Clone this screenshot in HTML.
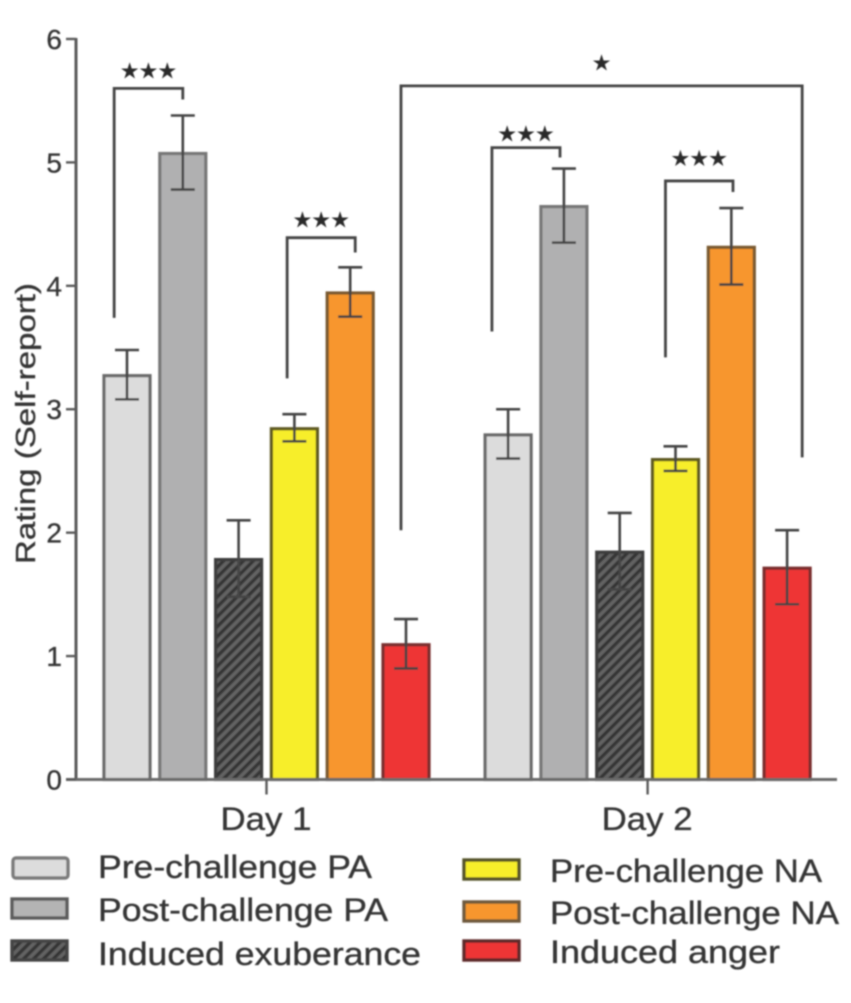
<!DOCTYPE html>
<html lang="en">
<head>
<meta charset="utf-8">
<title>Rating by day</title>
<style>
html,body{margin:0;padding:0;background:#fff;width:851px;height:1003px;overflow:hidden}
svg{display:block}
text{font-family:"Liberation Sans",sans-serif;fill:#363636;stroke:#363636;stroke-width:0.35px}
.star{font-family:"DejaVu Sans",sans-serif;fill:#2a2a2a;stroke:#2a2a2a}
</style>
</head>
<body>
<svg id="chart" width="851" height="1003" viewBox="0 0 851 1003" xmlns="http://www.w3.org/2000/svg">
<defs>
<filter id="soft" x="-5%" y="-5%" width="110%" height="110%"><feGaussianBlur stdDeviation="0.85"/></filter>
<pattern id="hatch" width="7" height="7" patternUnits="userSpaceOnUse" patternTransform="rotate(-45)">
<rect width="7" height="7" fill="#626262"/>
<rect width="7" height="3.4" fill="#353535"/>
</pattern>
</defs>
<rect width="851" height="1003" fill="#ffffff"/>
<g id="root" filter="url(#soft)">
<g id="bars"></g>
<g id="axes"></g>
<g id="errors"></g>
<g id="brackets"></g>
<text transform="translate(35,564) rotate(-90)" font-size="28" textLength="281" lengthAdjust="spacingAndGlyphs">Rating (Self-report)</text>
<g>
<g>
<rect x="13" y="858" width="55" height="20" rx="3" fill="#dcdcdc" stroke="#7a7a7a" stroke-width="3.4"/>
<text x="98" y="878" font-size="32" textLength="274" lengthAdjust="spacingAndGlyphs">Pre-challenge PA</text>
</g>
<g>
<rect x="12" y="899" width="55" height="19" fill="#b4b4b4" stroke="#5c5c5c" stroke-width="3.4"/>
<text x="98" y="921" font-size="32" textLength="290" lengthAdjust="spacingAndGlyphs">Post-challenge PA</text>
</g>
<g>
<rect x="12" y="941" width="55" height="19" fill="url(#hatch)" stroke="#444444" stroke-width="3.4"/>
<text x="98" y="965" font-size="32" textLength="323" lengthAdjust="spacingAndGlyphs">Induced exuberance</text>
</g>
<g>
<rect x="464" y="860" width="55" height="19" fill="#f7ee2c" stroke="#55532a" stroke-width="3.4"/>
<text x="550" y="882" font-size="32" textLength="272" lengthAdjust="spacingAndGlyphs">Pre-challenge NA</text>
</g>
<g>
<rect x="464" y="902" width="55" height="19" fill="#f7962d" stroke="#6e5a3e" stroke-width="3.4"/>
<text x="550" y="924" font-size="32" textLength="289" lengthAdjust="spacingAndGlyphs">Post-challenge NA</text>
</g>
<g>
<rect x="464" y="941" width="55" height="19" fill="#ee3536" stroke="#5e2a2a" stroke-width="3.4"/>
<text x="550" y="963" font-size="32" textLength="230" lengthAdjust="spacingAndGlyphs">Induced anger</text>
</g>
</g>
</g>
</svg>
<script>
const yTickLabels = ["0", "1", "2", "3", "4", "5", "6"];
const dayLabels = ["Day 1", "Day 2"];
const seriesNames = ["pre-challenge-pa", "post-challenge-pa", "induced-exuberance", "pre-challenge-na", "post-challenge-na", "induced-anger"];
const day1Values = [3.28, 5.08, 1.79, 2.85, 3.95, 1.10];
const day2Values = [2.80, 4.65, 1.85, 2.60, 4.32, 1.72];
const day1Errors = [0.20, 0.30, 0.31, 0.11, 0.20, 0.20];
const day2Errors = [0.20, 0.30, 0.31, 0.10, 0.31, 0.30];
const bracketStartSlot = [-0.23, 2.87, 4.91, 6.54, 9.65];
const bracketEndSlot = [1.00, 4.09, 12.10, 7.76, 10.86];
const bracketTopValue = [5.60, 4.39, 5.62, 5.12, 4.85];
const bracketLeftEndValue = [3.74, 3.25, 2.02, 3.63, 3.42];
const bracketRightEndValue = [5.51, 4.27, 2.61, 5.04, 4.76];
const bracketStarValue = [5.75, 4.54, 5.815, 5.24, 5.04];
const bracketStars = ["★★★", "★★★", "★", "★★★", "★★★"];

const NS = "http://www.w3.org/2000/svg";
const barFills = ["#dcdcdc", "#b0b0b1", "url(#hatch)", "#f7ee2c", "#f7962d", "#ee3536"];
const barStrokes = ["#6a6a6a", "#777777", "#3c3c3c", "#5e5a24", "#7a5a30", "#7a2f2f"];
const dayStartSlot = [0, 6.83];

function y(v) { return 779.5 - v * 123.42; }
function x(slot) { return 127 + slot * 55.8; }
function make(parent, tag, attrs, content) {
  const el = document.createElementNS(NS, tag);
  for (const k in attrs) el.setAttribute(k, attrs[k]);
  if (content !== undefined) el.textContent = content;
  parent.appendChild(el);
  return el;
}
const barsG = document.getElementById("bars");
const errorsG = document.getElementById("errors");
const axesG = document.getElementById("axes");
const bracketsG = document.getElementById("brackets");

function drawDay(dayIndex, values, errors) {
  values.forEach(function (v, i) {
    const cx = x(dayStartSlot[dayIndex] + i);
    const bar = make(barsG, "rect", { x: cx - 23, y: y(v) + 1, width: 46, height: y(0) - y(v) - 1, fill: barFills[i], stroke: barStrokes[i], "stroke-width": 3.2 });
    
    
    const hi = y(v + errors[i]);
    const lo = y(v - errors[i]);
    const err = make(errorsG, "path", { d: "M" + (cx - 12) + " " + hi + "H" + (cx + 12) + "M" + cx + " " + hi + "V" + lo + "M" + (cx - 12) + " " + lo + "H" + (cx + 12), fill: "none", stroke: "#454545", "stroke-width": 2.6 });
    
    
  });
}
drawDay(0, day1Values, day1Errors);
drawDay(1, day2Values, day2Errors);

const yAxis = make(axesG, "line", { x1: 76, x2: 76, y1: y(6) - 1, y2: y(0), stroke: "#5a5a5a", "stroke-width": 3 });


const xAxis = make(axesG, "line", { x1: 66, x2: 837, y1: y(0), y2: y(0), stroke: "#6a6a6a", "stroke-width": 3 });



yTickLabels.forEach(function (label) {
  const py = y(Number(label));
  const tick = make(axesG, "line", { x1: 66, x2: 76, y1: py, y2: py, stroke: "#5a5a5a", "stroke-width": 2.4 });
  
  
  const text = make(axesG, "text", { x: 62, y: py + 10, "font-size": 28, "text-anchor": "end" }, label);
  
  
});

dayLabels.forEach(function (label, d) {
  const cx = x(dayStartSlot[d] + 2.5);
  const tick = make(axesG, "line", { x1: cx, x2: cx, y1: y(0), y2: y(0) + 15, stroke: "#5a5a5a", "stroke-width": 2.4 });
  
  
  const text = make(axesG, "text", { x: cx - 46, y: 830, "font-size": 32, textLength: 91, lengthAdjust: "spacingAndGlyphs" }, label);
  
  
});

bracketStars.forEach(function (stars, i) {
  const x1 = x(bracketStartSlot[i]);
  const x2 = x(bracketEndSlot[i]);
  const top = y(bracketTopValue[i]);
  const path = make(bracketsG, "path", { d: "M" + x1 + " " + y(bracketLeftEndValue[i]) + "V" + top + "H" + x2 + "V" + y(bracketRightEndValue[i]), fill: "none", stroke: "#454545", "stroke-width": 2.8 });
  
  
  const label = make(bracketsG, "text", { class: "star", x: (x1 + x2) / 2, y: y(bracketStarValue[i]) + 8, "font-size": 21, "text-anchor": "middle" }, stars);
  
  
});
</script>
</body>
</html>
